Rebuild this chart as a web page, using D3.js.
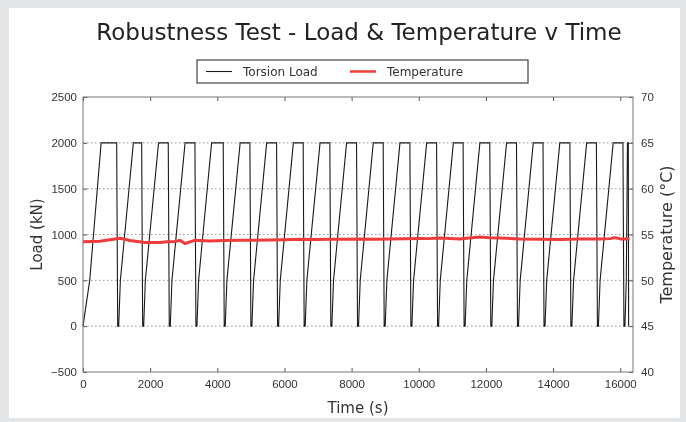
<!DOCTYPE html>
<html>
<head>
<meta charset="utf-8">
<script src="https://cdn.jsdelivr.net/npm/d3@7/dist/d3.min.js"></script>
<style>
	body { margin: 0; background: #e3e5e7; }
	svg { display: block; font-family: 'DejaVu Sans', sans-serif; filter: blur(0.45px); }
	.grid line { stroke: #999; stroke-dasharray: 1.5 2.5; }
	.tick-lbl { font-size: 11.5px; fill: #333; }
</style>
</head>
<body>
<svg id="chart" width="686" height="422"></svg>
<script>
const title = 'Robustness Test - Load & Temperature v Time'

const xTicks = [0, 2000, 4000, 6000, 8000, 10000, 12000, 14000, 16000]
const loadTicks = [-500, 0, 500, 1000, 1500, 2000, 2500]
const tempTicks = [40, 45, 50, 55, 60, 65, 70]

// torsion load (kN) against time (s)
const loadTime = [
	0, 200, 540,
	1003, 1033, 1063, 1113, 1500,
	1747, 1777, 1807, 1857, 2250,
	2539, 2569, 2599, 2649, 3040,
	3333, 3363, 3393, 3443, 3830,
	4176, 4206, 4236, 4286, 4680,
	4970, 5000, 5030, 5080, 5470,
	5765, 5795, 5825, 5875, 6265,
	6557, 6587, 6617, 6667, 7060,
	7351, 7381, 7411, 7461, 7850,
	8146, 8176, 8206, 8256, 8645,
	8940, 8970, 9000, 9050, 9440,
	9735, 9765, 9795, 9845, 10235,
	10530, 10560, 10590, 10640, 11030,
	11320, 11350, 11380, 11430, 11820,
	12115, 12145, 12175, 12225, 12615,
	12910, 12940, 12970, 13020, 13410,
	13700, 13730, 13760, 13810, 14200,
	14500, 14530, 14560, 14610, 15000,
	15290, 15320, 15350, 15400, 15790,
	16080, 16110, 16140, 16180, 16215, 16240, 16250
]
const loadKN = [
	0, 500, 2000,
	2000, 0, 0, 500, 2000,
	2000, 0, 0, 500, 2000,
	2000, 0, 0, 500, 2000,
	2000, 0, 0, 500, 2000,
	2000, 0, 0, 500, 2000,
	2000, 0, 0, 500, 2000,
	2000, 0, 0, 500, 2000,
	2000, 0, 0, 500, 2000,
	2000, 0, 0, 500, 2000,
	2000, 0, 0, 500, 2000,
	2000, 0, 0, 500, 2000,
	2000, 0, 0, 500, 2000,
	2000, 0, 0, 500, 2000,
	2000, 0, 0, 500, 2000,
	2000, 0, 0, 500, 2000,
	2000, 0, 0, 500, 2000,
	2000, 0, 0, 500, 2000,
	2000, 0, 0, 500, 2000,
	2000, 0, 0, 500, 2000,
	2000, 0, 0, 500, 2000, 2000, 0
]

// temperature (°C) against time (s)
const tempTime = [0, 500, 860, 1100, 1250, 1400, 1850, 2290, 2500, 2740, 2890, 3040, 3330, 3780, 4200, 4670, 5100, 5570, 6000, 6460, 6900, 7350, 7800, 8240, 8700, 9140, 9600, 10030, 10300, 10630, 11220, 11500, 11820, 12100, 12410, 13000, 13600, 14200, 14790, 15390, 15700, 15830, 16000, 16130, 16280]
const tempC = [54.22, 54.26, 54.46, 54.60, 54.48, 54.35, 54.13, 54.12, 54.20, 54.24, 54.36, 54.02, 54.36, 54.28, 54.34, 54.36, 54.38, 54.41, 54.43, 54.47, 54.45, 54.48, 54.47, 54.51, 54.49, 54.52, 54.53, 54.57, 54.55, 54.63, 54.52, 54.62, 54.74, 54.64, 54.62, 54.52, 54.47, 54.46, 54.51, 54.52, 54.55, 54.66, 54.52, 54.51, 54.53]

const plotL = 83, plotR = 633, plotT = 97, plotB = 372

const svg = d3.select('#chart')

svg.append('rect')
	.attr('x', 9).attr('y', 8)
	.attr('width', 671).attr('height', 410)
	.attr('fill', '#fff')

const x = d3.scaleLinear().domain([0, 16380]).range([plotL, plotR])
const yLoad = d3.scaleLinear().domain([-500, 2500]).range([plotB, plotT])
const yTemp = d3.scaleLinear().domain([40, 70]).range([plotB, plotT])

// grid
svg.append('g')
	.attr('class', 'grid')
	.selectAll('line')
	.data(loadTicks.slice(1, -1))
	.enter()
	.append('line')
	.attr('x1', plotL).attr('x2', plotR)
	.attr('y1', d => yLoad(d)).attr('y2', d => yLoad(d))

// load line
const loadPts = loadTime.map((t, i) => [t, loadKN[i]])
svg.append('path')
	.datum(loadPts)
	.attr('fill', 'none')
	.attr('stroke', '#1a1a1a')
	.attr('stroke-width', 1.1)
	.attr('d', d3.line().x(d => x(d[0])).y(d => yLoad(d[1])))

// temperature line
const tempPts = tempTime.map((t, i) => [t, tempC[i]])
svg.append('path')
	.datum(tempPts)
	.attr('fill', 'none')
	.attr('stroke', '#ee3b3b')
	.attr('stroke-width', 3)
	.attr('stroke-linejoin', 'round')
	.attr('d', d3.line().x(d => x(d[0])).y(d => yTemp(d[1])))

// axes (ticks inward, like the source plot)
const axisStyle = g => {
	g.select('.domain').remove()
	g.selectAll('.tick line').attr('stroke', '#555')
	g.selectAll('.tick text').attr('class', 'tick-lbl').attr('font-family', null).attr('font-size', null)
}

svg.append('g')
	.attr('transform', `translate(0,${plotB})`)
	.call(d3.axisBottom(x).tickValues(xTicks).tickSize(-4).tickPadding(8).tickFormat(d3.format('d')))
	.call(axisStyle)

svg.append('g')
	.attr('transform', `translate(0,${plotT})`)
	.call(d3.axisTop(x).tickValues(xTicks).tickSize(-4).tickFormat(''))
	.call(axisStyle)

svg.append('g')
	.attr('transform', `translate(${plotL},0)`)
	.call(d3.axisLeft(yLoad).tickValues(loadTicks).tickSize(-4).tickPadding(6).tickFormat(d3.format('d')))
	.call(axisStyle)

svg.append('g')
	.attr('transform', `translate(${plotR},0)`)
	.call(d3.axisRight(yTemp).tickValues(tempTicks).tickSize(-4).tickPadding(8).tickFormat(d3.format('d')))
	.call(axisStyle)

// frame
svg.append('rect')
	.attr('x', plotL).attr('y', plotT)
	.attr('width', plotR - plotL).attr('height', plotB - plotT)
	.attr('fill', 'none')
	.attr('stroke', '#777')
	.attr('stroke-width', 1)

// labels
svg.append('text')
	.attr('x', 359).attr('y', 40)
	.attr('text-anchor', 'middle')
	.attr('font-size', 23)
	.attr('fill', '#222')
	.text(title)

svg.append('text')
	.attr('x', 358).attr('y', 413)
	.attr('text-anchor', 'middle')
	.attr('font-size', 15)
	.attr('fill', '#333')
	.text('Time (s)')

svg.append('text')
	.attr('transform', `translate(42,${(plotT + plotB)/2}) rotate(-90)`)
	.attr('text-anchor', 'middle')
	.attr('font-size', 15)
	.attr('fill', '#333')
	.text('Load (kN)')

svg.append('text')
	.attr('transform', `translate(672,${(plotT + plotB)/2}) rotate(-90)`)
	.attr('text-anchor', 'middle')
	.attr('font-size', 16)
	.attr('fill', '#333')
	.text('Temperature (°C)')

// legend
const legend = svg.append('g')
legend.append('rect')
	.attr('x', 197).attr('y', 60)
	.attr('width', 331).attr('height', 23)
	.attr('fill', '#fff')
	.attr('stroke', '#444')
	.attr('stroke-width', 1.2)

const items = [
	{ label: 'Torsion Load', colour: '#1a1a1a', w: 1.1, x0: 206 },
	{ label: 'Temperature', colour: '#ee3b3b', w: 2.5, x0: 350 }
]
items.forEach(it => {
	legend.append('line')
		.attr('x1', it.x0).attr('x2', it.x0 + 26)
		.attr('y1', 71.5).attr('y2', 71.5)
		.attr('stroke', it.colour)
		.attr('stroke-width', it.w)
	legend.append('text')
		.attr('x', it.x0 + 37).attr('y', 76)
		.attr('font-size', 12)
		.attr('fill', '#333')
		.text(it.label)
})
</script>
</body>
</html>
